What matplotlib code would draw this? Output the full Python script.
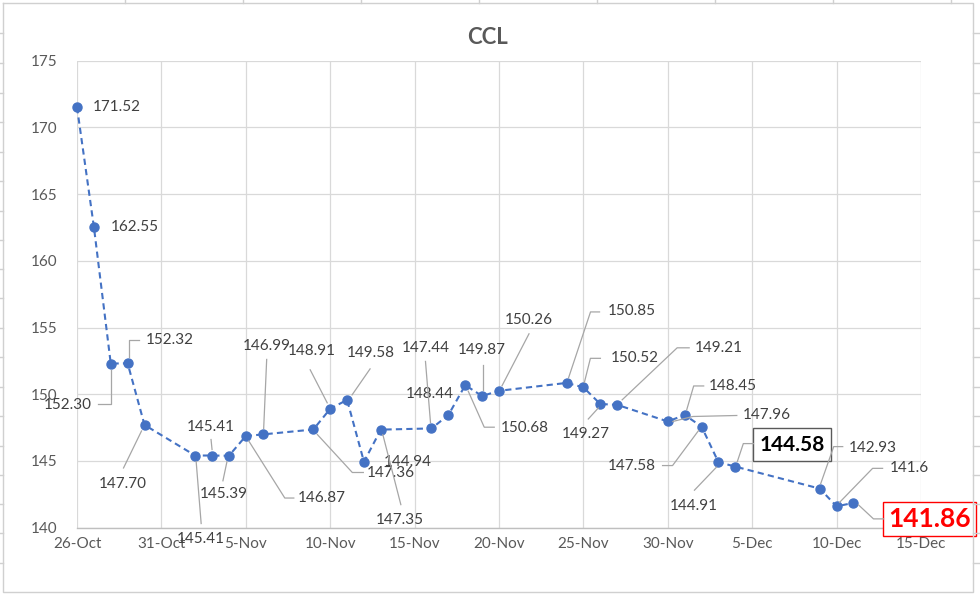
import matplotlib
matplotlib.use("Agg")
import matplotlib.pyplot as plt
import matplotlib.dates as mdates
from matplotlib.lines import Line2D
from matplotlib.transforms import IdentityTransform
import datetime as dt

plt.rcParams['font.family'] = ['Lato', 'DejaVu Sans']

# ---------------- data ----------------
dates = ["2020-10-26", "2020-10-27", "2020-10-28", "2020-10-29", "2020-10-30",
         "2020-11-02", "2020-11-03", "2020-11-04", "2020-11-05", "2020-11-06",
         "2020-11-09", "2020-11-10", "2020-11-11", "2020-11-12", "2020-11-13",
         "2020-11-16", "2020-11-17", "2020-11-18", "2020-11-19", "2020-11-20",
         "2020-11-24", "2020-11-25", "2020-11-26", "2020-11-27", "2020-11-30",
         "2020-12-01", "2020-12-02", "2020-12-03", "2020-12-04", "2020-12-09",
         "2020-12-10", "2020-12-11"]
values = [171.52, 162.55, 152.30, 152.32, 147.70,
          145.41, 145.41, 145.39, 146.87, 146.99,
          147.36, 148.91, 149.58, 144.94, 147.35,
          147.44, 148.44, 150.68, 149.87, 150.26,
          150.85, 150.52, 149.27, 149.21, 147.96,
          148.45, 147.58, 144.91, 144.58, 142.93,
          141.6, 141.86]
label_texts = ["171.52", "162.55", "152.30", "152.32", "147.70",
               "145.41", "145.41", "145.39", "146.87", "146.99",
               "147.36", "148.91", "149.58", "144.94", "147.35",
               "147.44", "148.44", "150.68", "149.87", "150.26",
               "150.85", "150.52", "149.27", "149.21", "147.96",
               "148.45", "147.58", "144.91", "144.58", "142.93",
               "141.6", "141.86"]
title = "CCL"
x_start, x_end = "2020-10-26", "2020-12-15"
y_min, y_max, y_step = 140, 175, 5

# ---------------- label layout (pixel offsets, image coords: y down) ----------------
# (dx, dy, ha, leader vertices or None)
layout = [
    (16, 0, 'left', None),
    (17, 0, 'left', None),
    (-19, 41, 'right', [(0, 6), (0, 40), (-13, 40)]),
    (18, -23, 'left', [(1, -6), (1, -23), (11, -23)]),
    (-22, 59, 'center', [(-3, 6), (-21, 43)]),
    (6, 83, 'center', [(1, 6), (6, 68)]),
    (-1, -29, 'center', [(-1, -16), (0, -6)]),
    (-5, 38, 'center', [(-2, 6), (-6, 25)]),
    (52, 62, 'left', [(3, 5), (39, 62), (48, 62)]),
    (4, -88, 'center', [(4, -75), (1, -6)]),
    (53, 44, 'left', [(4, 5), (39, 43), (50, 43)]),
    (-18, -58, 'center', [(-20, -39), (-3, -6)]),
    (24, -47, 'center', [(23, -31), (5, -5)]),
    (20, 0, 'left', None),
    (19, 90, 'center', [(2, 5), (20, 75)]),
    (-6, -80, 'center', [(-6, -67), (-1, -6)]),
    (-19, -21, 'center', None),
    (36, 43, 'left', [(3, 6), (19, 42), (29, 42)]),
    (0, -46, 'center', [(1, -31), (1, -6)]),
    (30, -71, 'center', [(30, -57), (3, -5)]),
    (41, -72, 'left', [(2, -5), (24, -71), (33, -71)]),
    (27, -29, 'left', [(1, -5), (7, -29), (17, -29)]),
    (-14, 30, 'center', [(-2, 4), (-12, 15)]),
    (78, -57, 'left', [(5, -5), (60, -57), (72, -57)]),
    (75, -6, 'left', [(5, 0), (25, -5), (69, -6)]),
    (24, -29, 'left', [(2, -5), (9, -29), (19, -29)]),
    (-46, 39, 'right', [(-3, 4), (-29, 39), (-39, 39)]),
    (-25, 44, 'center', [(-2, 5), (-24, 28)]),
    (57, -22, 'center', [(2, -5), (8, -23), (18, -23)]),
    (29, -41, 'left', [(1, -5), (14, -42), (23, -42)]),
    (53, -38, 'left', [(3, -4), (36, -38), (46, -38)]),
    (76, 16, 'center', [(5, 2), (20, 16), (30, 16)]),
]

W, H = 980, 594
BLUE = '#4472C4'
GRID = '#D9D9D9'
TXT = '#595959'
LBL = '#404040'
LEADER = '#A6A6A6'

fig = plt.figure(figsize=(W / 100, H / 100), dpi=100)
fig.patch.set_facecolor('white')
ax = fig.add_axes([77 / W, 1 - 527.7 / H, (921 - 77) / W, (527.7 - 60.7) / H])

xd = [mdates.date2num(dt.datetime.strptime(d, "%Y-%m-%d")) for d in dates]
x0 = mdates.date2num(dt.datetime.strptime(x_start, "%Y-%m-%d"))
x1 = mdates.date2num(dt.datetime.strptime(x_end, "%Y-%m-%d"))

ax.plot(xd, values, linestyle=(0, (3, 2)), color=BLUE, linewidth=1.5,
        marker='o', markersize=6.5, markerfacecolor=BLUE, markeredgecolor=BLUE,
        zorder=3, clip_on=False)

ax.set_xlim(x0, x1)
ax.set_ylim(y_min, y_max)
ax.set_yticks(range(y_min, y_max + 1, y_step))
xt = [x0 + 5 * i for i in range(int((x1 - x0) // 5) + 1)]
ax.set_xticks(xt)
ax.xaxis.set_major_formatter(mdates.DateFormatter('%-d-%b'))
ax.grid(True, color=GRID, linewidth=0.9)
ax.set_axisbelow(True)
for s in ['top', 'right', 'left']:
    ax.spines[s].set_visible(False)
ax.spines['bottom'].set_color('#BFBFBF')
ax.spines['bottom'].set_linewidth(1.0)
ax.tick_params(length=0, labelsize=11, colors=TXT)
ax.tick_params(axis='y', pad=14)
ax.tick_params(axis='x', pad=7)

fig.text(487 / W, 1 - 38 / H, title, ha='center', va='center',
         fontsize=16, fontweight='bold', color=TXT)

# data labels + leader lines
fig.canvas.draw()
for i, (x, y) in enumerate(zip(xd, values)):
    dx, dy, ha, leader = layout[i]
    px, py = ax.transData.transform((x, y))
    if leader:
        lx = [px + v[0] for v in leader]
        ly = [py - v[1] for v in leader]
        fig.add_artist(Line2D(lx, ly, transform=IdentityTransform(),
                              color=LEADER, linewidth=0.9, zorder=2))
    kw = dict(xy=(x, y), xycoords='data', xytext=(dx, -dy),
              textcoords='offset pixels', ha=ha, va='center',
              annotation_clip=False, zorder=5)
    if i == len(values) - 1:
        ax.annotate(label_texts[i], fontsize=19, fontweight='bold', color='#FF0000',
                    bbox=dict(boxstyle='square,pad=0.18', fc='white', ec='#FF0000', lw=1.0),
                    **kw)
    elif i == 28:
        ax.annotate(label_texts[i], fontsize=15, fontweight='bold', color='black',
                    bbox=dict(boxstyle='square,pad=0.3', fc='white', ec='#595959', lw=1.0),
                    **kw)
    else:
        ax.annotate(label_texts[i], fontsize=11, color=LBL, **kw)

# chart frame and spreadsheet cell edges
frame = [(3, 3), (973, 3), (973, 592), (3, 592), (3, 3)]
fig.add_artist(Line2D([p[0] for p in frame], [H - p[1] for p in frame],
                      transform=IdentityTransform(), color='#D0D0D0', linewidth=1.0))
for xx in range(125, 973, 118):
    fig.add_artist(Line2D([xx, xx], [H, H - 3], transform=IdentityTransform(),
                          color='#D0D0D0', linewidth=1.0))
for yy in [33, 63, 93, 122, 152, 181, 211, 240, 269, 298, 328, 357, 387, 416,
           446, 475, 504, 533, 563]:
    fig.add_artist(Line2D([973, W], [H - yy, H - yy], transform=IdentityTransform(),
                          color='#D0D0D0', linewidth=1.0))
for yy in [33, 63, 93, 122, 152, 181, 211, 240, 269, 298, 328, 357, 387, 416,
           446, 475, 504, 533, 563]:
    fig.add_artist(Line2D([0, 3], [H - yy, H - yy], transform=IdentityTransform(),
                          color='#D0D0D0', linewidth=1.0))

fig.savefig('out.png', dpi=100)
